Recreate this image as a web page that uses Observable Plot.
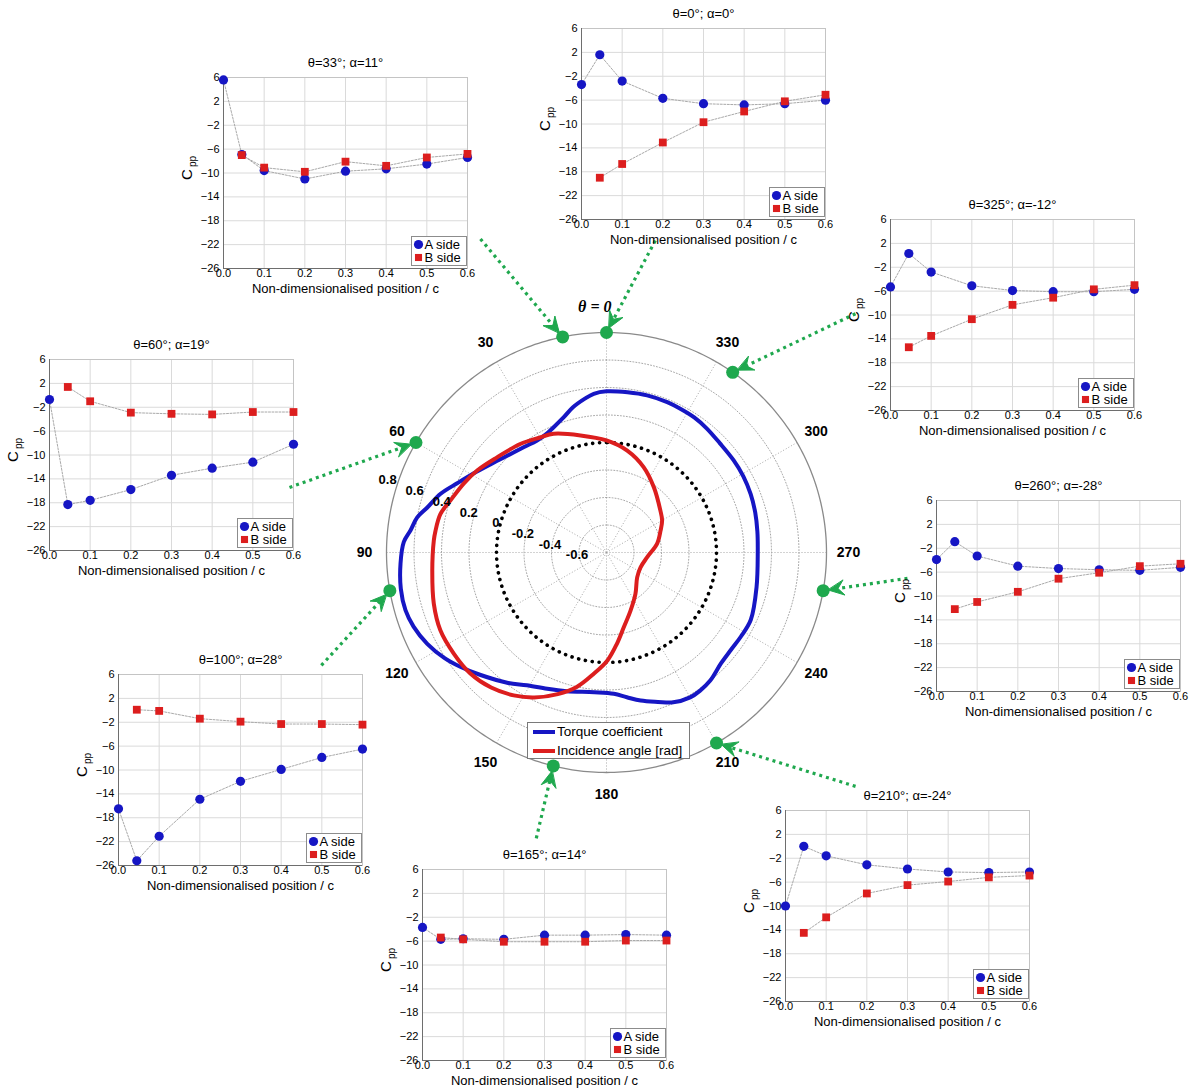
<!DOCTYPE html>
<html><head><meta charset="utf-8">
<script src="https://cdn.jsdelivr.net/npm/d3@7"></script>
<script src="https://cdn.jsdelivr.net/npm/@observablehq/plot@0.6"></script>
<style>
html,body{margin:0;padding:0;background:#fff;}
#wrap{position:relative;width:1190px;height:1088px;overflow:hidden;background:#fff;font-family:"Liberation Sans",Arial,Helvetica,sans-serif;}
#wrap > svg{position:absolute;}
.pleg{position:absolute;background:#fff;border:1px solid #7a7a7a;font-size:13.5px;color:#000;}
.pleg .row{position:absolute;left:0;height:16px;line-height:16px;white-space:nowrap;}
.pleg .sw{position:absolute;left:5px;top:6px;width:22px;height:4px;}
.pleg .lab{position:absolute;left:29px;top:0;}
</style></head>
<body><div id="wrap"></div>
<script>
// ---------------- data ----------------
// polar chart: torque coefficient vs azimuth (deg)
const thetaTorque = [0, 4.6, 8, 13, 17.5, 23, 27, 32, 38, 46, 53, 59, 65, 70.5, 76, 79.5, 83.5, 87, 93, 100, 106, 111, 117, 123, 128, 134, 143, 149, 156.5, 164, 175, 183, 188, 193, 199, 204, 210, 214, 219, 226, 232, 238, 245, 257, 270, 278, 285, 292, 299, 306, 314, 321, 327, 333, 338, 345.5, 352.5];
const torque = [0.372, 0.358, 0.33, 0.284, 0.232, 0.188, 0.166, 0.158, 0.174, 0.21, 0.262, 0.322, 0.395, 0.48, 0.545, 0.60, 0.634, 0.676, 0.70, 0.719, 0.721, 0.703, 0.663, 0.607, 0.55, 0.48, 0.388, 0.326, 0.281, 0.249, 0.22, 0.229, 0.263, 0.305, 0.349, 0.393, 0.417, 0.414, 0.399, 0.359, 0.349, 0.353, 0.358, 0.32, 0.30, 0.308, 0.32, 0.331, 0.339, 0.342, 0.345, 0.36, 0.371, 0.375, 0.379, 0.38, 0.375];
// polar chart: incidence angle [rad] vs azimuth (deg)
const thetaIncidence = [0, 12.5, 24, 30, 38.5, 49, 57.5, 64, 71.5, 77, 83, 86, 96, 106.5, 115, 123.5, 131.5, 139.5, 147, 153.5, 161, 167.5, 174, 180.5, 186.5, 193, 202.5, 215, 231, 246.5, 263.5, 280, 292, 300, 308, 324, 336.5, 348.5];
const incidence = [0.015, 0.072, 0.145, 0.166, 0.208, 0.255, 0.313, 0.352, 0.396, 0.44, 0.454, 0.459, 0.474, 0.51, 0.534, 0.532, 0.525, 0.492, 0.439, 0.378, 0.289, 0.202, 0.087, -0.015, -0.132, -0.242, -0.343, -0.433, -0.513, -0.53, -0.502, -0.426, -0.376, -0.333, -0.303, -0.214, -0.123, -0.044];
const radialTicks = [-0.6, -0.4, -0.2, 0, 0.2, 0.4, 0.6, 0.8];
const angleTicks = [0, 30, 60, 90, 120, 150, 180, 210, 240, 270, 300, 330];
const legendLabels = ["Torque coefficient", "Incidence angle [rad]"];

// pressure-coefficient panels
const caseTheta = [33, 0, 325, 60, 260, 100, 165, 210];
const caseAlpha = [11, 0, -12, 19, -28, 28, 14, -24];
const markerAngle = [11.5, 0, 325, 60, 260, 100, 166, 210]; // rim markers as drawn
const positionsA = [0, 0.045, 0.1, 0.2, 0.3, 0.4, 0.5, 0.6];
const positionsB = [0.045, 0.1, 0.2, 0.3, 0.4, 0.5, 0.6];
const cppTicks = [6, 2, -2, -6, -10, -14, -18, -22, -26];
const posTicks = [0, 0.1, 0.2, 0.3, 0.4, 0.5, 0.6];
const sideA_33 = [5.6, -6.9, -9.6, -11.0, -9.7, -9.3, -8.5, -7.4];
const sideB_33 = [-7.0, -9.1, -9.8, -8.1, -8.8, -7.4, -6.8];
const sideA_0 = [-3.4, 1.6, -2.8, -5.7, -6.6, -6.8, -6.6, -6.0];
const sideB_0 = [-19.0, -16.7, -13.1, -9.7, -7.9, -6.2, -5.1];
const sideA_325 = [-5.3, 0.3, -2.8, -5.1, -5.9, -6.1, -6.1, -5.7];
const sideB_325 = [-15.4, -13.5, -10.7, -8.3, -7.1, -5.7, -5.0];
const sideA_60 = [-0.7, -18.3, -17.6, -15.8, -13.4, -12.2, -11.2, -8.2];
const sideB_60 = [1.4, -1.0, -2.9, -3.1, -3.2, -2.8, -2.8];
const sideA_260 = [-3.9, -0.9, -3.3, -5.0, -5.4, -5.6, -5.7, -5.2];
const sideB_260 = [-12.2, -11.0, -9.3, -7.1, -6.1, -5.0, -4.6];
const sideA_100 = [-16.5, -25.2, -21.1, -14.9, -11.9, -9.9, -7.9, -6.5];
const sideB_100 = [0.1, -0.1, -1.4, -1.9, -2.3, -2.3, -2.4];
const sideA_165 = [-3.7, -5.7, -5.6, -5.7, -5.0, -5.0, -4.9, -5.0];
const sideB_165 = [-5.4, -5.7, -6.1, -6.1, -6.1, -5.9, -5.9];
const sideA_210 = [-10.0, 0.0, -1.6, -3.1, -3.8, -4.3, -4.4, -4.3];
const sideB_210 = [-14.5, -11.9, -7.9, -6.5, -5.9, -5.2, -4.9];
const sideA = [sideA_33, sideA_0, sideA_325, sideA_60, sideA_260, sideA_100, sideA_165, sideA_210];
const sideB = [sideB_33, sideB_0, sideB_325, sideB_60, sideB_260, sideB_100, sideB_165, sideB_210];

// ---------------- layout & style ----------------
const PAGE_W = 1190, PAGE_H = 1088;
const CX = 606, CY = 552, R = 220;           // polar disc on the page
const RMIN = -0.8, RMAX = 0.8, SPAN = RMAX - RMIN;
const PX = R / SPAN;                          // pixels per radial unit
const panelLayout = [[223, 77], [581, 28], [890, 219], [49, 359], [936, 500], [118, 674], [422, 869], [785, 810]];
const arrowFromAngle = [21.9, 351.1, 313.8, 78.4, 265.1, 111.6, 166.2, 226.8];
const arrowFromDist = [1.536, 1.435, 1.568, 1.471, 1.373, 1.394, 1.338, 1.553]; // in rim radii
const FONT = '"Liberation Sans", Arial, Helvetica, sans-serif';
const BLUE = "#1616c4", RED = "#dc1e1e", GREEN = "#1fa84e", GRID = "#9d9d9d";

const rad = d => d * Math.PI / 180;
const px = (a, u) => -u * Math.sin(rad(a));
const py = (a, u) => u * Math.cos(rad(a));

const wrap = document.getElementById("wrap");

// ---------------- polar chart ----------------
const torqueData = thetaTorque.map((t, i) => ({t, v: torque[i]}));
const incData = thetaIncidence.map((t, i) => ({t, v: incidence[i]}));
const ringTicks = radialTicks.filter(v => v !== 0 && v !== RMAX);
const ringData = ringTicks.flatMap(v => d3.range(0, 361, 2).map(a => ({v, a})));
const circle = d3.range(0, 361, 1);

// arrows from panels to rim markers
const arrowLines = [], arrowHeads = [];
markerAngle.forEach((a, i) => {
  const ex = px(a, SPAN), ey = py(a, SPAN);
  const sx = px(arrowFromAngle[i], arrowFromDist[i] * SPAN), sy = py(arrowFromAngle[i], arrowFromDist[i] * SPAN);
  const dx = ex - sx, dy = ey - sy, L = Math.hypot(dx, dy);
  const ux = dx / L, uy = dy / L, nx = -uy, ny = ux;
  const tipD = 5 / PX, notchD = 15 / PX, backD = 21 / PX, half = 7.5 / PX;
  const tx = ex - ux * tipD, ty = ey - uy * tipD;
  arrowLines.push({x1: sx, y1: sy, x2: ex - ux * notchD, y2: ey - uy * notchD});
  const bx = ex - ux * backD, by = ey - uy * backD;
  arrowHeads.push({k: i, x: tx, y: ty});
  arrowHeads.push({k: i, x: bx + nx * half, y: by + ny * half});
  arrowHeads.push({k: i, x: ex - ux * notchD, y: ey - uy * notchD});
  arrowHeads.push({k: i, x: bx - nx * half, y: by - ny * half});
});

const LABEL_DIR = 68.4, LABEL_SCALE = 1.0585;

const base = Plot.plot({
  width: PAGE_W, height: PAGE_H, margin: 0,
  style: {background: "none", fontFamily: FONT, color: "#000", overflow: "visible"},
  x: {domain: [-CX / PX, (PAGE_W - CX) / PX], axis: null},
  y: {domain: [-(PAGE_H - CY) / PX, CY / PX], axis: null},
  marks: [
    Plot.line(ringData, {x: d => px(d.a, d.v - RMIN), y: d => py(d.a, d.v - RMIN), z: "v", stroke: GRID, strokeWidth: 0.9, strokeDasharray: "1,2"}),
    Plot.link(angleTicks, {x1: () => 0, y1: () => 0, x2: a => px(a, SPAN), y2: a => py(a, SPAN), stroke: GRID, strokeWidth: 0.9, strokeDasharray: "1,2"}),
    Plot.line(circle, {x: a => px(a, SPAN), y: a => py(a, SPAN), stroke: "#8a8a8a", strokeWidth: 1.3}),
    Plot.line(circle, {x: a => px(a, 0 - RMIN), y: a => py(a, 0 - RMIN), stroke: "#000", strokeWidth: 3.6, strokeDasharray: "0.1,6.8", strokeLinecap: "round"}),
    Plot.line(torqueData, {x: d => px(d.t, d.v - RMIN), y: d => py(d.t, d.v - RMIN), stroke: BLUE, strokeWidth: 4, curve: "catmull-rom-closed"}),
    Plot.line(incData, {x: d => px(d.t, d.v - RMIN), y: d => py(d.t, d.v - RMIN), stroke: RED, strokeWidth: 4, curve: "catmull-rom-closed"}),
    Plot.text(radialTicks, {x: v => px(LABEL_DIR, (v - RMIN) * LABEL_SCALE), y: v => py(LABEL_DIR, (v - RMIN) * LABEL_SCALE), dx: -2.4, dy: 13.5, text: v => String(v), fontSize: 13, fontWeight: "bold", fill: "#000"}),
    Plot.text(angleTicks.filter(a => a !== 0), {x: a => px(a, 1.1 * SPAN), y: a => py(a, 1.1 * SPAN), text: a => String(a), fontSize: 14, fontWeight: "bold", fill: "#000"}),
    Plot.text([0], {x: a => px(a, 1.1 * SPAN), y: a => py(a, 1.1 * SPAN), text: a => "\u03B8 = " + a, textAnchor: "end", dx: 5, dy: -4, fontSize: 16, fontWeight: "bold", fontStyle: "italic", fontFamily: '"Liberation Serif", "DejaVu Serif", serif', fill: "#000"}),
    Plot.link(arrowLines, {x1: "x1", y1: "y1", x2: "x2", y2: "y2", stroke: GREEN, strokeWidth: 3.2, strokeDasharray: "3,4", strokeLinecap: "butt"}),
    Plot.line(arrowHeads, {x: "x", y: "y", z: "k", fill: GREEN, stroke: GREEN, strokeWidth: 1, curve: "linear-closed"}),
    Plot.dot(markerAngle, {x: a => px(a, SPAN), y: a => py(a, SPAN), r: 6.5, fill: GREEN, stroke: null})
  ]
});
base.style.left = "0px"; base.style.top = "0px";
wrap.appendChild(base);

// polar legend
(function () {
  const leg = document.createElement("div");
  leg.className = "pleg";
  leg.style.left = "527px"; leg.style.top = "722px"; leg.style.width = "161px"; leg.style.height = "35px";
  [BLUE, RED].forEach((c, i) => {
    const row = document.createElement("div");
    row.className = "row"; row.style.top = (1 + i * 18.5) + "px"; row.style.width = "161px";
    const sw = document.createElement("div"); sw.className = "sw"; sw.style.background = c;
    const lab = document.createElement("div"); lab.className = "lab"; lab.textContent = legendLabels[i];
    row.appendChild(sw); row.appendChild(lab); leg.appendChild(row);
  });
  wrap.appendChild(leg);
})();

// ---------------- Cpp panels ----------------
const W = 244, H = 191, ML = 46, MR = 8, MT = 26, MB = 32;
caseTheta.forEach((th, i) => {
  const A = positionsA.map((x, j) => ({x, y: sideA[i][j]}));
  const B = positionsB.map((x, j) => ({x, y: sideB[i][j]}));
  const svg = Plot.plot({
    width: W + ML + MR, height: H + MT + MB,
    marginLeft: ML, marginRight: MR, marginTop: MT, marginBottom: MB,
    style: {background: "none", fontFamily: FONT, fontSize: "11px", color: "#000", overflow: "visible"},
    x: {domain: [0, 0.6], label: null},
    y: {domain: [-26, 6], label: null},
    marks: [
      Plot.gridX(posTicks, {stroke: "#dadada", strokeOpacity: 1, strokeWidth: 1}),
      Plot.gridY(cppTicks, {stroke: "#dadada", strokeOpacity: 1, strokeWidth: 1}),
      Plot.frame({stroke: "#c4c4c4"}),
      Plot.ruleX([0], {stroke: "#6e6e6e"}),
      Plot.ruleY([-26], {stroke: "#6e6e6e"}),
      Plot.axisX(posTicks, {tickSize: 0, tickPadding: 1, label: null, fontSize: 11}),
      Plot.axisY(cppTicks, {tickSize: 0, tickPadding: 4, label: null, fontSize: 11}),
      Plot.line(A, {x: "x", y: "y", stroke: "#a9a9a9", strokeWidth: 1, strokeDasharray: "2,1.5"}),
      Plot.line(B, {x: "x", y: "y", stroke: "#a9a9a9", strokeWidth: 1, strokeDasharray: "2,1.5"}),
      Plot.dot(A, {x: "x", y: "y", r: 4.6, fill: BLUE, stroke: null}),
      Plot.dot(B, {x: "x", y: "y", r: 4.4, symbol: "square", fill: RED, stroke: null}),
      Plot.text([`\u03B8=${th}\u00B0; \u03B1=${caseAlpha[i]}\u00B0`], {text: d => d, frameAnchor: "top", lineAnchor: "middle", dy: -15, fontSize: 13}),
      Plot.text(["Non-dimensionalised position / c"], {text: d => d, frameAnchor: "bottom", lineAnchor: "middle", dy: 20, fontSize: 13}),
      Plot.text(["C"], {text: d => d, frameAnchor: "left", lineAnchor: "middle", dx: -36, dy: 7, rotate: -90, fontSize: 15}),
      Plot.text(["pp"], {text: d => d, frameAnchor: "left", lineAnchor: "middle", dx: -31, dy: -6, rotate: -90, fontSize: 10}),
      Plot.frame({fill: "#fff", stroke: "#8c8c8c", insetLeft: W - 56, insetTop: H - 32, insetRight: 1, insetBottom: 3}),
      Plot.dot(["A side"], {frameAnchor: "bottom-right", dx: -49, dy: -24, r: 4.6, fill: BLUE, stroke: null}),
      Plot.dot(["B side"], {frameAnchor: "bottom-right", dx: -49, dy: -11, r: 4.0, symbol: "square", fill: RED, stroke: null}),
      Plot.text(["A side"], {text: d => d, frameAnchor: "bottom-right", lineAnchor: "middle", dx: -43, dy: -24, textAnchor: "start", fontSize: 13}),
      Plot.text(["B side"], {text: d => d, frameAnchor: "bottom-right", lineAnchor: "middle", dx: -43, dy: -11, textAnchor: "start", fontSize: 13})
    ]
  });
  svg.style.left = (panelLayout[i][0] - ML) + "px";
  svg.style.top = (panelLayout[i][1] - MT) + "px";
  wrap.appendChild(svg);
});
</script>
</body></html>
